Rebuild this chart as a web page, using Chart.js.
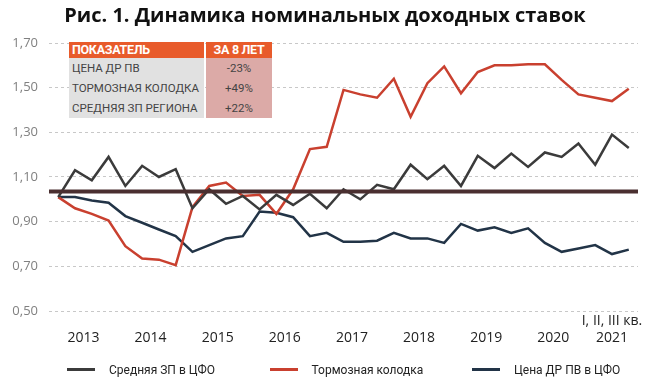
<!DOCTYPE html>
<html>
<head>
<meta charset="utf-8">
<script src="https://cdn.jsdelivr.net/npm/chart.js@4/dist/chart.umd.min.js"></script>
<style>
  body { margin: 0; background: #fff; }
  #wrap { position: relative; width: 650px; height: 385px; font-family: "Open Sans", sans-serif; }
  #title {
    position: absolute; left: 0; top: 5px; width: 650px;
    text-align: center; font-weight: 700; font-size: 20px; line-height: 20px; color: #111;
  }
  #summary {
    position: absolute; left: 69px; top: 42px;
    display: grid; grid-template-columns: 135px 66px; column-gap: 2px;
    grid-template-rows: 16px 20px 20px 20px;
    font-family: Roboto, sans-serif; white-space: nowrap;
  }
  #summary .head { background: #e85b2b; color: #fff; font-weight: 700; font-size: 12.5px; line-height: 16px; letter-spacing: -0.3px; }
  #summary .name { background: #e1e1e1; color: #444; font-size: 11.5px; line-height: 20px; }
  #summary .val { background: #dcaaa7; color: #444; font-size: 11.5px; line-height: 20px; text-align: center; }
  #summary .left { padding-left: 3px; overflow: hidden; }
  #summary .head.right { text-align: center; }
  #legend { position: absolute; left: 0; top: 362px; width: 650px; height: 16px; }
  #legend .item { position: absolute; top: 0; height: 16px; font-family: Roboto, sans-serif; font-size: 12px; line-height: 16px; color: #222; white-space: nowrap; }
  #legend .swatch { display: inline-block; width: 28px; height: 3px; vertical-align: middle; margin-right: 14px; position: relative; top: -1px; }
</style>
</head>
<body>
<div id="wrap">
  <canvas id="chart" width="650" height="385"></canvas>
  <div id="title">Рис. 1. Динамика номинальных доходных ставок</div>
  <div id="summary"></div>
  <div id="legend"></div>
</div>
<script>
// Years on the axis, quarters in each (2021 has only three)
const years = ["2013", "2014", "2015", "2016", "2017", "2018", "2019", "2020", "2021"];
const quartersPerYear = [4, 4, 4, 4, 4, 4, 4, 4, 3];
const lastYearNote = "I, II, III кв.";

// Quarterly indexes
const wageIndex = [1.01, 1.13, 1.085, 1.19, 1.06, 1.15, 1.10, 1.135, 0.96, 1.045, 0.98, 1.015,
  0.955, 1.02, 0.975, 1.025, 0.96, 1.045, 1.0, 1.065, 1.045, 1.155, 1.09, 1.15,
  1.06, 1.195, 1.14, 1.205, 1.145, 1.21, 1.19, 1.25, 1.155, 1.29, 1.23];
const brakePadIndex = [1.01, 0.96, 0.935, 0.905, 0.79, 0.735, 0.73, 0.705, 0.965, 1.06, 1.075, 1.015,
  1.02, 0.935, 1.045, 1.225, 1.235, 1.49, 1.47, 1.455, 1.54, 1.37, 1.52, 1.595,
  1.475, 1.57, 1.60, 1.60, 1.605, 1.605, 1.535, 1.47, 1.455, 1.44, 1.495];
const partPriceIndex = [1.01, 1.01, 0.995, 0.985, 0.925, 0.895, 0.865, 0.835, 0.765, 0.795, 0.825, 0.835,
  0.945, 0.94, 0.92, 0.835, 0.85, 0.81, 0.81, 0.815, 0.85, 0.825, 0.825, 0.805,
  0.89, 0.86, 0.875, 0.85, 0.87, 0.805, 0.765, 0.78, 0.795, 0.755, 0.775];

const seriesNames = ["Средняя ЗП в ЦФО", "Тормозная колодка", "Цена ДР ПВ в ЦФО"];
const baselineValue = 1.035;

// Summary table
const tableHeader = ["ПОКАЗАТЕЛЬ", "ЗА 8 ЛЕТ"];
const tableItems = ["ЦЕНА ДР ПВ", "ТОРМОЗНАЯ КОЛОДКА", "СРЕДНЯЯ ЗП РЕГИОНА"];
const tableChanges = ["-23%", "+49%", "+22%"];

// Year label sits in the middle of its quarters
const yearCenters = [];
let first = 0;
quartersPerYear.forEach(n => {
    yearCenters.push(first + (n - 1) / 2);
    first += n;
});
const lastIndex = first - 1;

function toPoints(values) {
    return values.map((v, i) => ({ x: i, y: v }));
}

const baselinePlugin = {
    id: "baseline",
    afterDatasetsDraw(chart) {
        const { ctx, chartArea, scales } = chart;
        const y = scales.y.getPixelForValue(baselineValue);
        ctx.save();
        ctx.strokeStyle = "#4a2f30";
        ctx.lineWidth = 4;
        ctx.beginPath();
        ctx.moveTo(chartArea.left, y);
        ctx.lineTo(chartArea.right, y);
        ctx.stroke();
        ctx.restore();
    }
};

const lineStyle = { borderWidth: 2.5, pointRadius: 0, tension: 0, fill: false };

const chart = new Chart(document.getElementById("chart"), {
    type: "line",
    data: {
        datasets: [
            { label: seriesNames[0], data: toPoints(wageIndex), borderColor: "#3b3b3b", ...lineStyle },
            { label: seriesNames[1], data: toPoints(brakePadIndex), borderColor: "#c9402f", ...lineStyle },
            { label: seriesNames[2], data: toPoints(partPriceIndex), borderColor: "#223447", ...lineStyle }
        ]
    },
    options: {
        responsive: false,
        animation: false,
        layout: { padding: { top: 43, right: 12, bottom: 38, left: 0 } },
        plugins: {
            legend: { display: false },
            tooltip: { enabled: false }
        },
        scales: {
            x: {
                type: "linear",
                min: -0.55,
                max: lastIndex + 0.55,
                grid: { display: false, drawTicks: false },
                border: { display: false },
                afterBuildTicks: s => { s.ticks = yearCenters.map(v => ({ value: v })); },
                afterFit: s => { s.height = 36; },
                ticks: {
                    autoSkip: false,
                    maxRotation: 0,
                    padding: 2,
                    color: "#222",
                    font: { family: "Open Sans", size: 14 },
                    callback: (v, i) => i === years.length - 1 ? [lastYearNote, years[i]] : ["", years[i]]
                }
            },
            y: {
                min: 0.5,
                max: 1.7,
                afterFit: s => { s.width = 49; },
                grid: { color: "#c8c8c8", lineWidth: 1, drawTicks: false },
                border: { display: false, dash: [3, 3] },
                ticks: {
                    stepSize: 0.2,
                    padding: 11,
                    color: "#808080",
                    font: { family: "Open Sans", size: 13 },
                    callback: v => v.toFixed(2).replace(".", ",")
                }
            }
        }
    },
    plugins: [baselinePlugin]
});

// Table overlay
const summary = document.getElementById("summary");
summary.innerHTML =
    `<div class="head left">${tableHeader[0]}</div><div class="head right">${tableHeader[1]}</div>` +
    tableItems.map((name, i) =>
        `<div class="name left">${name}</div><div class="val">${tableChanges[i]}</div>`).join("");

// Legend from datasets
const legend = document.getElementById("legend");
chart.data.datasets.forEach((ds, i) => {
    const item = document.createElement("div");
    item.className = "item";
    item.style.left = (67 + i * 202.5) + "px";
    item.innerHTML = `<span class="swatch" style="background:${ds.borderColor}"></span>${ds.label}`;
    legend.appendChild(item);
});
</script>
</body>
</html>
